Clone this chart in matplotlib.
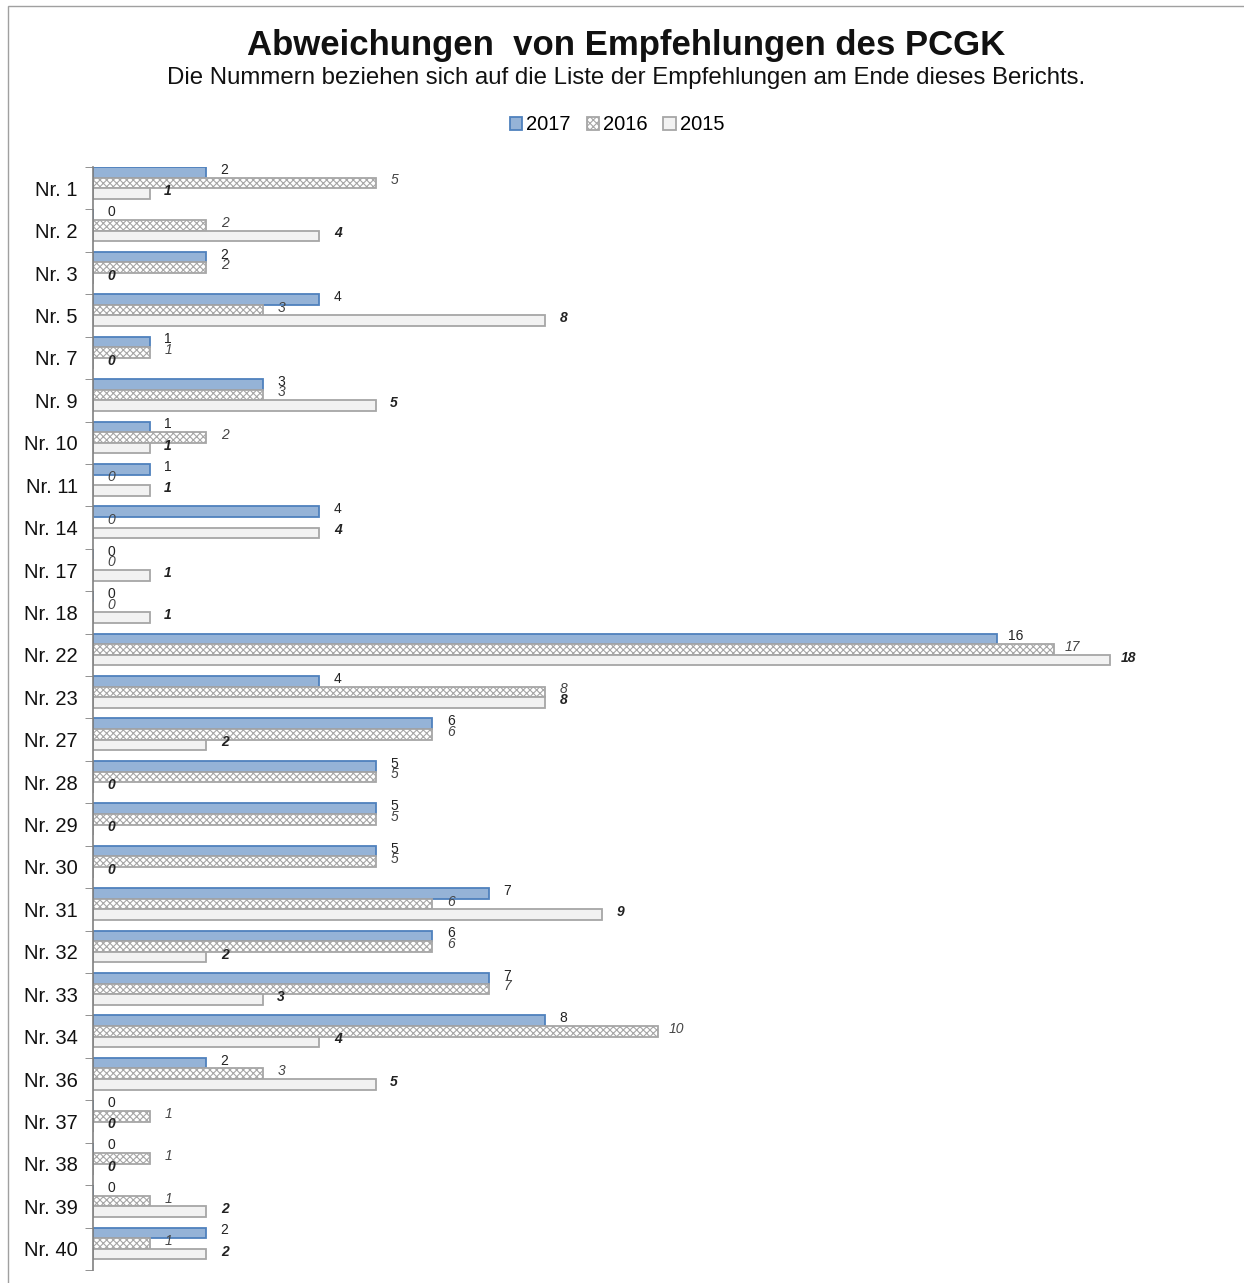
import numpy as np
import matplotlib.pyplot as plt
from matplotlib.patches import Rectangle

plt.rcParams['font.family'] = ['Liberation Sans', 'DejaVu Sans']
plt.rcParams['hatch.color'] = '#BFBFBF'
plt.rcParams['hatch.linewidth'] = 0.8

categories = ['Nr. 1', 'Nr. 2', 'Nr. 3', 'Nr. 5', 'Nr. 7', 'Nr. 9', 'Nr. 10', 'Nr. 11',
              'Nr. 14', 'Nr. 17', 'Nr. 18', 'Nr. 22', 'Nr. 23', 'Nr. 27', 'Nr. 28',
              'Nr. 29', 'Nr. 30', 'Nr. 31', 'Nr. 32', 'Nr. 33', 'Nr. 34', 'Nr. 36',
              'Nr. 37', 'Nr. 38', 'Nr. 39', 'Nr. 40']
v2017 = [2, 0, 2, 4, 1, 3, 1, 1, 4, 0, 0, 16, 4, 6, 5, 5, 5, 7, 6, 7, 8, 2, 0, 0, 0, 2]
v2016 = [5, 2, 2, 3, 1, 3, 2, 0, 0, 0, 0, 17, 8, 6, 5, 5, 5, 6, 6, 7, 10, 3, 1, 1, 1, 1]
v2015 = [1, 4, 0, 8, 0, 5, 1, 1, 4, 1, 1, 18, 8, 2, 0, 0, 0, 9, 2, 3, 4, 5, 0, 0, 2, 2]

fig = plt.figure(figsize=(12.44, 12.83), dpi=100)
fig.patches.append(Rectangle((8 / 1244, -0.05), 1.2, (1283 - 6) / 1283 + 0.05,
                             transform=fig.transFigure, fill=False,
                             edgecolor='#A0A0A0', linewidth=1))
ax = fig.add_axes([93 / 1244, 13 / 1283, (20 * 56.5) / 1244, (1270 - 167) / 1283])

y = np.arange(len(categories))
h = 0.25
shift = -0.125
series = [
    (v2017, -h, dict(color='#95B3D7', edgecolor='#4F81BD'), dict(color='#222222')),
    (v2016, 0, dict(color='white', edgecolor='#A6A6A6', hatch='xxxxx'),
     dict(color='#444444', style='italic')),
    (v2015, h, dict(color='#F2F2F2', edgecolor='#A6A6A6'),
     dict(color='#222222', style='italic', weight='bold')),
]
labels = ['2017', '2016', '2015']
for (vals, off, st, tst), lab in zip(series, labels):
    ax.barh(y + off + shift, vals, height=h, linewidth=1.3, label=lab, **st)
    for yi, v in zip(y + off + shift, vals):
        ax.text(v + 0.33, yi - 0.06, str(v), ha='center', va='center', fontsize=10, **tst)

ax.set_ylim(len(categories) - 0.5, -0.5)
ax.set_xlim(0, 20)
ax.set_yticks(y)
ax.set_yticklabels(categories, fontsize=14.5, color='#111111')
ax.set_yticks(np.arange(len(categories) + 1) - 0.5, minor=True)
ax.tick_params(axis='y', which='major', length=0, pad=11)
ax.tick_params(axis='y', which='minor', length=6, color='#808080', direction='out')
ax.set_xticks([])
for s in ['top', 'right', 'bottom']:
    ax.spines[s].set_visible(False)
ax.spines['left'].set_color('#808080')
ax.spines['left'].set_linewidth(1.2)

fig.text(626 / 1244, 1 - 46 / 1283, 'Abweichungen  von Empfehlungen des PCGK',
         ha='center', va='center', fontsize=25, weight='bold', color='#111111')
fig.text(626 / 1244, 1 - 78 / 1283,
         'Die Nummern beziehen sich auf die Liste der Empfehlungen am Ende dieses Berichts.',
         ha='center', va='center', fontsize=17.3, color='#111111')

fig.legend(loc='center', bbox_to_anchor=(617 / 1244, 1 - 125 / 1283), ncol=3,
           frameon=False, fontsize=14.5, handlelength=0.6, handleheight=0.6,
           handletextpad=0.2, columnspacing=0.8)

fig.savefig('out.png', dpi=100)
